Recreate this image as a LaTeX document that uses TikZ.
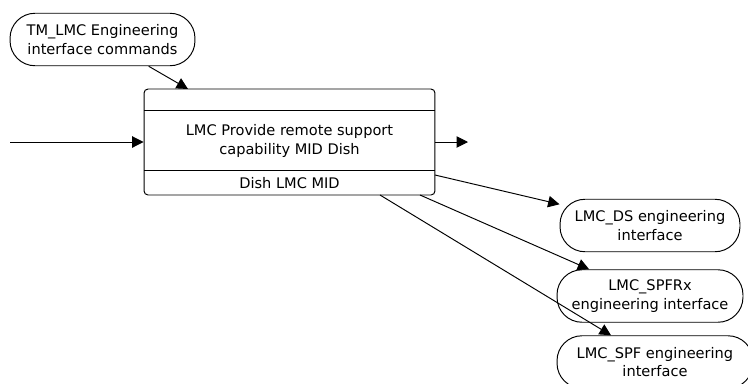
\documentclass[tikz,border=0pt]{standalone}
\usepackage{fontspec}
\setmainfont{DejaVu Sans}
\usetikzlibrary{arrows.meta}

\begin{document}
\begin{tikzpicture}[x=0.02cm, y=-0.02cm,
	font=\fontsize{8.3}{10.4}\selectfont,
	iface/.style={draw, rounded corners=0.5cm, align=center, inner sep=0pt, minimum height=1.05cm},
	flow/.style={-{Triangle[length=6.5pt, width=6.5pt]}, line width=0.55pt}]
	% Parameters
	\def\actleft{144}
	\def\actright{435}
	\def\actmidx{289.5}
	\def\rowtop{110}
	\def\rowbottom{170}

	\useasboundingbox (0,0) rectangle (748,383);

	%activity
	\node[draw, line width=0.55pt, rounded corners=0.08cm, minimum width=5.82cm, minimum height=2.12cm, inner sep=0pt] (act) at (\actmidx,142) {};
	\draw[line width=0.55pt] (\actleft,\rowtop) -- (\actright,\rowtop);
	\draw[line width=0.55pt] (\actleft,\rowbottom) -- (\actright,\rowbottom);
	\node[align=center] (actname) at (\actmidx,141) {LMC Provide remote support\\capability MID Dish};
	\node (actorg) at (\actmidx,183) {Dish LMC MID};

	%interfaces
	\node[iface, line width=0.55pt, minimum width=3.7cm] (tm) at (102.5,39.5) {TM\_LMC Engineering\\interface commands};
	\node[iface, line width=0.55pt, minimum width=3.6cm] (ds) at (650,225.5) {LMC\_DS engineering\\interface};
	\node[iface, line width=0.55pt, minimum width=3.72cm] (spfrx) at (650,296) {LMC\_SPFRx\\engineering interface};
	\node[iface, line width=0.55pt, minimum width=3.92cm] (spf) at (655,362) {LMC\_SPF engineering\\interface};

	%flows
	\coordinate (in) at (10,142);
	\coordinate (out) at (468,142);
	\coordinate (ctl) at (188,89);
	\coordinate (m1) at (\actright,175);
	\coordinate (m2) at (420,195);
	\coordinate (m3) at (380,195);
	\draw[flow] (in) -- (act);
	\draw[flow] (act) -- (out);
	\draw[flow] (tm) -- (ctl);
	\draw[flow] (m1) -- (ds);
	\draw[flow] (m2) -- (spfrx);
	\draw[flow] (m3) -- (spf);
\end{tikzpicture}
\end{document}
